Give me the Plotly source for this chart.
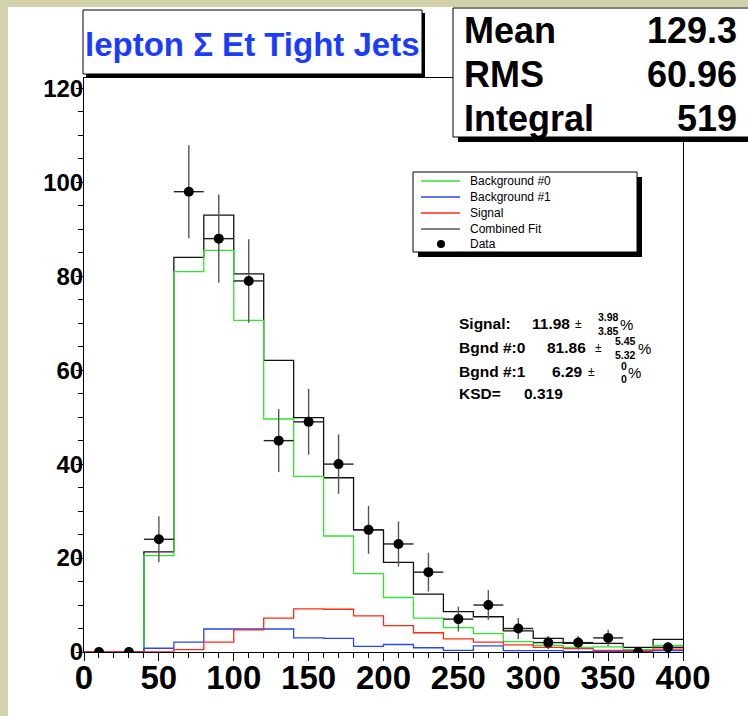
import numpy as np
import plotly.graph_objects as go

# ---------------- data ----------------
bin_edges = list(range(0, 420, 20))
bin_centers = [10 + 20 * i for i in range(20)]
data_counts = [0, 0, 24, 98, 88, 79, 45, 49, 40, 26, 23, 17, 7, 10, 5, 2, 2, 3, 0, 1]
bkg0 = [0, 0, 20.5, 81, 85.5, 70.6, 49.6, 37.4, 24.7, 16.7, 11.6, 7.2, 5.2, 3.9, 2.2, 1.4, 1.0, 1.1, 0.5, 1.4]
bkg1 = [0, 0, 0.8, 2.1, 4.9, 4.9, 4.9, 3.0, 2.9, 1.2, 1.6, 0.9, 0.35, 1.3, 0.3, 0.3, 0.1, 0.1, 0.1, 0.3]
signal = [0, 0, 0.0, 0.5, 2.1, 4.7, 7.2, 9.2, 9.1, 7.7, 5.6, 4.1, 2.8, 2.1, 1.5, 1.0, 0.7, 0.35, 0.3, 0.6]
combined = [0, 0, 21.3, 84, 93, 80.5, 62.1, 49.9, 37.1, 26.0, 19.1, 12.3, 8.6, 7.5, 4.5, 2.9, 1.85, 1.85, 1.0, 2.7]

x_ticks = [0, 50, 100, 150, 200, 250, 300, 350, 400]
y_ticks = [0, 20, 40, 60, 80, 100, 120]

stats_labels = ["Mean", "RMS", "Integral"]
stats_values = ["129.3", "60.96", "519"]
legend_names = ["Background #0", "Background #1", "Signal", "Combined Fit", "Data"]

GREEN = "#2ee62e"
BLUE = "#2346ff"
RED = "#ff2a10"
BLACK = "#111111"
FONT = "Liberation Sans, Arial, Helvetica, sans-serif"

# plot area in pixels
L, R, T, B = 84, 683, 78, 652
W, H = 748, 716


def px(x):
    return (x - L) / (R - L)


def py(y):
    return (B - y) / (B - T)


def step(vals):
    return bin_edges, list(vals) + [vals[-1]]


fig = go.Figure()

for vals, col, w in [(combined, BLACK, 1.3), (bkg0, GREEN, 1.3), (bkg1, BLUE, 1.3), (signal, RED, 1.3)]:
    xs, ys = step(vals)
    fig.add_trace(go.Scatter(x=xs, y=ys, mode="lines", line=dict(color=col, width=w, shape="hv"),
                             showlegend=False, hoverinfo="skip"))

err_y = [float(np.sqrt(n)) for n in data_counts]
err_x = [10 if n > 0 else 0 for n in data_counts]
fig.add_trace(go.Scatter(
    x=bin_centers, y=data_counts, mode="markers",
    marker=dict(color="black", size=10),
    error_y=dict(type="data", array=err_y, width=0, thickness=1.4, color="#555555"),
    error_x=dict(type="data", array=err_x, width=0, thickness=1.4, color="#222222"),
    showlegend=False))

shapes = []
annotations = []

# beige strips (canvas edge)
beige = "#d4d1ad"
shapes.append(dict(type="rect", xref="paper", yref="paper", x0=px(-2), x1=px(8), y0=py(720), y1=py(-2),
                   fillcolor=beige, line=dict(width=0), layer="above"))
shapes.append(dict(type="rect", xref="paper", yref="paper", x0=px(-2), x1=px(752), y0=py(7), y1=py(-2),
                   fillcolor=beige, line=dict(width=0), layer="above"))


def box(x0, y0, x1, y1, sh):
    shapes.append(dict(type="rect", xref="paper", yref="paper", x0=px(x0 + sh), x1=px(x1 + sh),
                       y0=py(y1 + sh), y1=py(y0 + sh), fillcolor="black", line=dict(width=0), layer="above"))
    shapes.append(dict(type="rect", xref="paper", yref="paper", x0=px(x0), x1=px(x1),
                       y0=py(y1), y1=py(y0), fillcolor="white", line=dict(color="black", width=1), layer="above"))


def text(x, y, s, size, anchor="left", color="black", bold=True):
    annotations.append(dict(xref="paper", yref="paper", x=px(x), y=py(y), text=s, showarrow=False,
                            xanchor=anchor, yanchor="middle",
                            font=dict(family=FONT, size=size, color=color,
                                      weight="bold" if bold else "normal")))


# title box
box(83, 10, 422, 74, 3)
text(252, 44, "lepton Σ Et Tight Jets", 33, anchor="center", color="#1a3cff")

# stats box
box(453, 8, 770, 137, 5)
for lab, val, yy in zip(stats_labels, stats_values, [30, 74, 119]):
    text(462, yy, lab, 36)
    text(739, yy, val, 36, anchor="right")

# legend box
box(413, 172, 637, 252, 5)
leg_cols = [GREEN, BLUE, RED, "#808080"]
leg_y = [181, 197, 213, 229, 244]
for i, name in enumerate(legend_names):
    if i < 4:
        shapes.append(dict(type="line", xref="paper", yref="paper", x0=px(421), x1=px(460),
                           y0=py(leg_y[i]), y1=py(leg_y[i]),
                           line=dict(color=leg_cols[i], width=1.3 if i < 3 else 2), layer="above"))
    else:
        shapes.append(dict(type="circle", xref="paper", yref="paper", x0=px(437), x1=px(445),
                           y0=py(leg_y[i] + 4), y1=py(leg_y[i] - 4),
                           fillcolor="black", line=dict(color="black", width=0), layer="above"))
    text(468, leg_y[i], name, 12, bold=False)

# fit results text
text(457, 323, "Signal:", 15.5)
text(530, 323, "11.98", 15.5)
text(573, 324, "±", 12, bold=False)
text(596, 317, "3.98", 10.5)
text(596, 331, "3.85", 10.5)
text(618, 324, "%", 15, bold=False)

text(457, 347, "Bgnd #:0", 15.5)
text(545, 347, "81.86", 15.5)
text(593, 348, "±", 12, bold=False)
text(613, 341, "5.45", 10.5)
text(613, 355, "5.32", 10.5)
text(636, 348, "%", 15, bold=False)

text(457, 371, "Bgnd #:1", 15.5)
text(550, 371, "6.29", 15.5)
text(586, 372, "±", 12, bold=False)
text(619, 366, "0", 10.5)
text(619, 379, "0", 10.5)
text(626, 372, "%", 15, bold=False)

text(457, 393, "KSD=", 15.5)
text(522, 393, "0.319", 15.5)

fig.update_layout(
    width=W, height=H, autosize=False,
    margin=dict(l=L, r=W - R, t=T, b=H - B, pad=0),
    paper_bgcolor="white", plot_bgcolor="white",
    shapes=shapes, annotations=annotations,
    showlegend=False,
    xaxis=dict(range=[0, 400], tickmode="array", tickvals=x_ticks, ticktext=[str(v) for v in x_ticks],
               ticks="outside", ticklen=8, tickwidth=1, tickcolor="black",
               minor=dict(dtick=10, tick0=0, ticks="outside", ticklen=4.5, tickcolor="black", tickwidth=1),
               showline=True, linecolor="black", linewidth=1, mirror=True,
               showgrid=False, zeroline=False, ticklabelstandoff=-12,
               tickfont=dict(family=FONT, size=33, color="black", weight="bold")),
    yaxis=dict(range=[0, 122.2], tickmode="array", tickvals=y_ticks, ticktext=[str(v) for v in y_ticks],
               ticks="outside", ticklen=7, tickwidth=1, tickcolor="black",
               minor=dict(dtick=5, tick0=0, ticks="outside", ticklen=5, tickcolor="black", tickwidth=1),
               showline=True, linecolor="black", linewidth=1, mirror=True,
               showgrid=False, zeroline=False, ticklabelstandoff=-12,
               tickfont=dict(family=FONT, size=24, color="black", weight="bold")),
)

fig.write_html("out.html")
